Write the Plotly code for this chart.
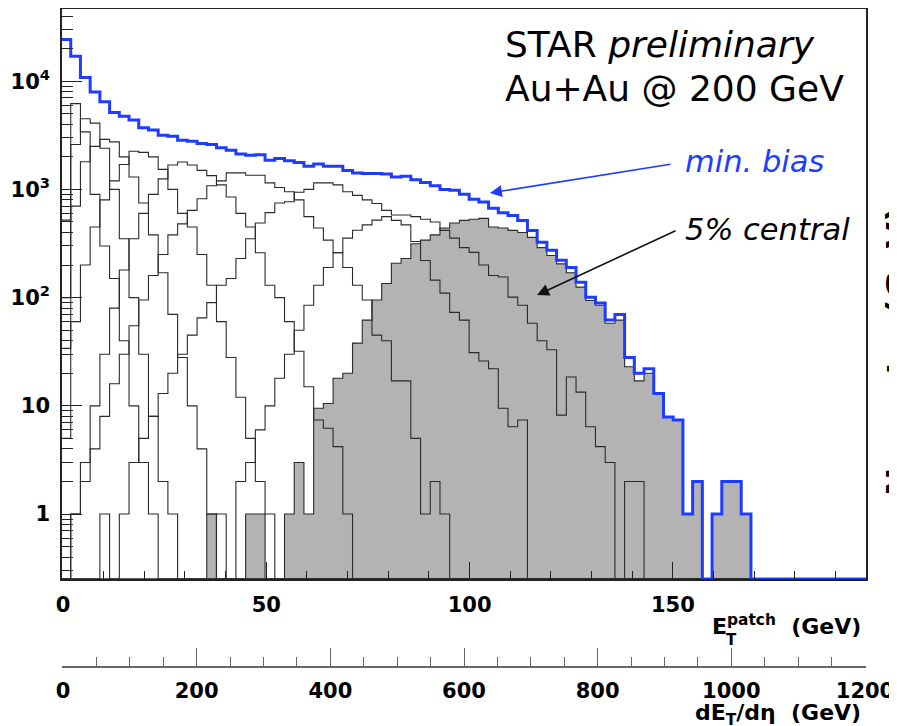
import math
import plotly.graph_objects as go

FONT = "DejaVu Sans"

# ---------------- data ----------------
# histogram binning in E_T^patch (GeV)
BIN_START = -0.49
BIN_WIDTH = 2.39
N_BINS = 83

x_tick_vals = [0, 50, 100, 150]
x_tick_text = ["0", "50", "100", "150"]
x2_tick_vals = [0, 200, 400, 600, 800, 1000, 1200]
x2_tick_text = ["0", "200", "400", "600", "800", "1000", "1200"]
y_tick_vals = [1, 10, 100, 1000, 10000]
y_tick_text = ["1", "10", "10<sup>2</sup>", "10<sup>3</sup>", "10<sup>4</sup>"]

# minimum bias (blue)
min_bias = [24300, 17000, 10800, 7950, 6440, 5130, 4750, 4370, 3710, 3530,
            3170, 3100, 2850, 2790, 2660, 2600, 2420, 2300, 2120, 2070,
            2090, 1862, 1935, 1835, 1770, 1640, 1720, 1640, 1640, 1498,
            1420, 1405, 1405, 1390, 1300, 1320, 1230, 1160, 1080, 1000,
            980, 900, 810, 765, 670, 610, 575, 517, 418, 325,
            274, 222, 190, 139, 101, 89, 62, 70, 28, 20,
            22, 13, 7.9, 7.4, 1, 2, 0, 1, 2, 2, 1]

# 5% central (grey filled)
central_5 = [0] * 15 + [1, 0, 0, 0, 1, 1, 0, 0, 1, 3, 1, 9.5, 10.5, 18, 20,
                        38, 62, 95, 135, 208, 230, 315, 340, 380, 440,
                        490, 517, 530, 540, 450, 440, 418, 400, 360, 290,
                        245, 205, 170, 125, 94, 85, 58, 62, 23, 17,
                        20, 13, 7.9, 7.4, 1, 2, 0, 1, 2, 2, 1]

# other centrality classes (thin black outlines)
class_1 = [520, 6200, 3400, 900, 300, 150, 40, 10, 3, 1]
class_2 = [100, 2600, 4500, 4100, 2400, 1000, 350, 100, 30, 8, 2, 1]
class_3 = [34, 700, 1800, 2500, 2900, 2750, 2000, 1300, 750, 380,
           170, 70, 28, 10, 4, 1]
class_4 = [5, 60, 200, 450, 800, 1200, 1700, 2250, 2200, 2000,
           1530, 1000, 600, 450, 250, 130, 60, 28, 12, 5, 2, 1]
class_5 = [0, 1, 3, 10, 30, 80, 180, 350, 600, 900,
           1250, 1680, 1790, 1680, 1500, 1340, 1100, 850, 600, 450,
           260, 130, 100, 60, 32, 15, 7.4, 6.2, 4.2, 1]
class_6 = [0, 1, 2, 4, 8, 16, 30, 55, 95, 160,
           250, 380, 480, 640, 820, 1080, 1200, 1420, 1420, 1350,
           1350, 1150, 1040, 950, 800, 560, 440, 340, 260, 190,
           130, 95, 45, 40, 17, 17, 5, 1, 2, 1]
class_7 = [0, 0, 0, 0, 1, 0, 1, 3, 5, 8,
           13, 20, 30, 45, 65, 90, 130, 150, 230, 350,
           490, 610, 750, 770, 940, 1000, 1150, 1150, 1100, 950,
           880, 800, 740, 640, 580, 580, 560, 530, 500, 418,
           355, 290, 262, 200, 160, 155, 101, 85, 58, 40,
           33, 8.2, 18.5, 13.4, 6.4, 4.2, 3.0, 0, 2, 2]
class_8 = [0] * 16 + [1, 0, 2, 3, 6, 10, 18, 30, 50, 85,
                      130, 190, 260, 355, 420, 470, 520, 560, 517, 470,
                      330, 220, 145, 110, 73, 62, 31, 26, 22, 9.5, 6.4, 7.4]

outline_classes = [class_1, class_2, class_3, class_4, class_5,
                   class_6, class_7, class_8, central_5]

# ---------------- helpers ----------------
Y_LOG_MIN, Y_LOG_MAX = -0.6, 4.667
FLOOR = 10 ** Y_LOG_MIN
edges = [BIN_START + BIN_WIDTH * k for k in range(N_BINS + 1)]


def padded(vals):
    v = list(vals) + [0] * (N_BINS - len(vals))
    return [a if a > 0 else FLOOR for a in v]


def step_xy(vals):
    v = padded(vals)
    return edges, v + [v[-1]]


fig = go.Figure()

# grey filled 5% central
gv = padded(central_5)
fx, fy = [edges[0]], [FLOOR]
for k, val in enumerate(gv):
    fx += [edges[k], edges[k + 1]]
    fy += [val, val]
fx.append(edges[-1]); fy.append(FLOOR)
fig.add_trace(go.Scatter(x=fx, y=fy, mode="lines", fill="toself",
                         fillcolor="#b3b3b3", line=dict(width=0),
                         hoverinfo="skip", showlegend=False))

for cls in outline_classes:
    sx, sy = step_xy(cls)
    fig.add_trace(go.Scatter(x=sx, y=sy, mode="lines", line_shape="hv",
                             line=dict(color="#2a2a2a", width=1.1),
                             hoverinfo="skip", showlegend=False))

bx, by = step_xy(min_bias)
fig.add_trace(go.Scatter(x=bx, y=by, mode="lines", line_shape="hv",
                         line=dict(color="#1e3cff", width=3),
                         hoverinfo="skip", showlegend=False))

# dummy trace for the secondary (dE_T/deta) axis
fig.add_trace(go.Scatter(x=[None], y=[None], xaxis="x2", yaxis="y2",
                         showlegend=False, hoverinfo="skip"))

# ---------------- layout ----------------
# the page body has an 8px margin: work in screen pixels, convert below
OFF = 8
W, H = 897 - OFF, 726 - OFF
PLOT_L, PLOT_R, PLOT_T, PLOT_B = 62, 866, 9, 579   # screen px of main frame
ML, MT = PLOT_L - OFF, PLOT_T - OFF
MR = W - (PLOT_R - OFF)
MB = 32
PW, PH = W - ML - MR, H - MT - MB
PAPER_BOTTOM = H - MB          # figure px


def paper(px, py):
    return (px - OFF - ML) / PW, (PAPER_BOTTOM - (py - OFF)) / PH


y_main_bottom = paper(0, PLOT_B)[1]
y2_pos = paper(0, 666)[1]

minor_y = [m * 10 ** d for d in range(-1, 5) for m in range(2, 10)
           if Y_LOG_MIN <= (d + math.log10(m)) <= Y_LOG_MAX]

tickfont = dict(family=FONT, size=21, color="black", weight="bold")

fig.update_layout(
    width=W, height=H, autosize=False,
    margin=dict(l=ML, r=MR, t=MT, b=MB, pad=0),
    paper_bgcolor="white", plot_bgcolor="white",
    showlegend=False,
    xaxis=dict(domain=[0, 1], range=[-0.246, 197.5], showline=True,
               linecolor="#222", linewidth=1.5, mirror=True,
               ticks="inside", ticklen=17, tickwidth=1.2, tickcolor="#222",
               tickvals=x_tick_vals, ticktext=x_tick_text, tickfont=tickfont,
               ticklabelstandoff=6, automargin=False,
               minor=dict(ticks="inside", ticklen=8, dtick=10, tick0=0,
                          tickcolor="#222", tickwidth=1.2),
               showgrid=False, zeroline=False),
    yaxis=dict(domain=[y_main_bottom, 1], type="log",
               range=[Y_LOG_MIN, Y_LOG_MAX], showline=True,
               linecolor="#222", linewidth=1.5, mirror=True,
               ticks="inside", ticklen=20, tickwidth=1.2, tickcolor="#222",
               tickvals=y_tick_vals, ticktext=y_tick_text, tickfont=tickfont,
               ticklabelstandoff=6, automargin=False,
               minor=dict(ticks="inside", ticklen=11, tickvals=minor_y,
                          tickcolor="#222", tickwidth=1.2),
               showgrid=False, zeroline=False),
    xaxis2=dict(domain=[0, 1], anchor="y2", range=[-1.5, 1201.5],
                showline=True, linecolor="#666", linewidth=1.5,
                ticks="inside", ticklen=18, tickwidth=1.2, tickcolor="#666",
                tickvals=x2_tick_vals, ticktext=x2_tick_text,
                tickfont=tickfont, ticklabelstandoff=5, automargin=False,
                minor=dict(ticks="inside", ticklen=9, dtick=50, tick0=0,
                           tickcolor="#666", tickwidth=1.2),
                showgrid=False, zeroline=False),
    yaxis2=dict(domain=[y2_pos, y2_pos + 0.001], visible=False,
                range=[0, 1], showgrid=False, zeroline=False,
                automargin=False),
)

annotations = []


def add_text(px, py, text, size, color="black", xanchor="left",
             weight="normal", angle=0):
    xp, yp = paper(px, py)
    annotations.append(dict(x=xp, y=yp, xref="paper", yref="paper",
                            text=text, showarrow=False, xanchor=xanchor,
                            yanchor="middle", textangle=angle,
                            font=dict(family=FONT, size=size, color=color,
                                      weight=weight)))


add_text(503, 44, "STAR <i>preliminary</i>", 36)
add_text(503, 88, "Au+Au @ 200 GeV", 36)
add_text(683, 161, "<i>min. bias</i>", 30.5, color="#1e3cff")
add_text(683, 229, "<i>5% central</i>", 30.5)
add_text(863, 625, "E<sup>patch</sup>  (GeV)", 22, xanchor="right",
         weight="bold")
add_text(731, 640, "T", 15, xanchor="center", weight="bold")
add_text(863, 715, "dE<sub>T</sub>/dη  (GeV)", 22, xanchor="right",
         weight="bold")
# axis title of the neighbouring panel, cut off by the right edge
add_text(899, 352, "Nevents  (GeV)", 34, xanchor="center", weight="bold",
         angle=-90)

# arrows (head positions in data coords)
annotations.append(dict(x=105.0, y=2.967, xref="x", yref="y", text="",
                        showarrow=True, arrowhead=2, arrowsize=1.5,
                        arrowwidth=1.6, arrowcolor="#1e3cff",
                        ax=182, ay=-29, standoff=0))
annotations.append(dict(x=116.6, y=2.024, xref="x", yref="y", text="",
                        showarrow=True, arrowhead=2, arrowsize=1.5,
                        arrowwidth=1.6, arrowcolor="#111",
                        ax=140, ay=-65, standoff=0))

fig.update_layout(annotations=annotations)

fig.write_html("out.html")
